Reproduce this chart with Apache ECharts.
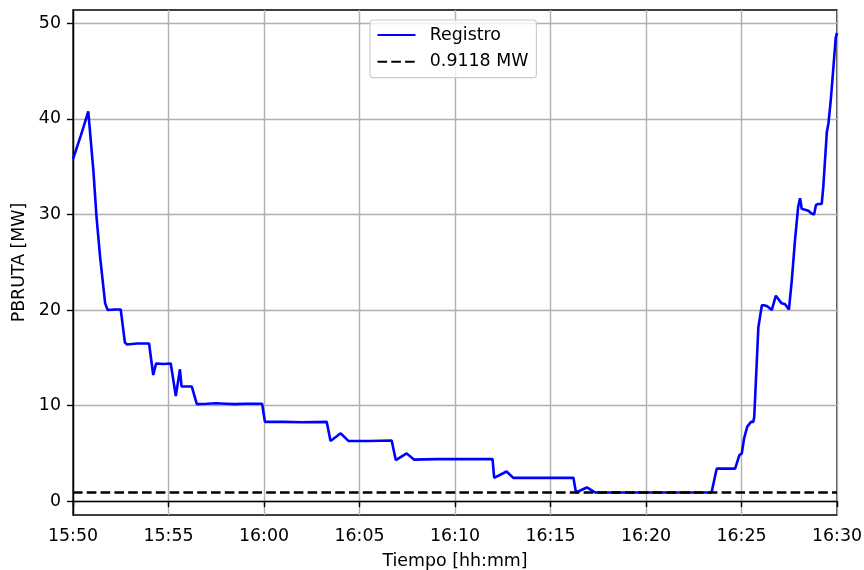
<!DOCTYPE html>
<html>
<head>
<meta charset="utf-8">
<script src="https://cdn.jsdelivr.net/npm/echarts@6/dist/echarts.min.js"></script>
<style>
  html, body { margin: 0; padding: 0; background: #fff; }
  #main { width: 864px; height: 570px; }
</style>
</head>
<body>
<div id="main"></div>
<script>
// registro de potencia bruta (hh:mm:ss, MW)
var horas = [
  '15:50:00', '15:50:14', '15:50:24', '15:50:30', '15:50:38', '15:50:48',
  '15:51:04', '15:51:14', '15:51:25', '15:51:41', '15:51:49', '15:52:10',
  '15:52:30', '15:52:34', '15:52:43', '15:52:50', '15:53:20', '15:53:59',
  '15:54:12', '15:54:21', '15:54:45', '15:55:07', '15:55:23', '15:55:36',
  '15:55:41', '15:56:13', '15:56:29', '15:57:00', '15:57:30', '15:58:00',
  '15:58:30', '15:59:00', '15:59:30', '15:59:54', '16:00:03', '16:01:00',
  '16:02:00', '16:03:17', '16:03:29', '16:04:01', '16:04:25', '16:05:30',
  '16:06:41', '16:06:54', '16:07:28', '16:07:51', '16:09:00', '16:10:30',
  '16:11:58', '16:12:03', '16:12:42', '16:13:03', '16:14:30', '16:16:12',
  '16:16:20', '16:16:54', '16:17:20', '16:19:00', '16:21:00', '16:23:26',
  '16:23:42', '16:24:40', '16:24:53', '16:25:01', '16:25:08', '16:25:18',
  '16:25:30', '16:25:37', '16:25:40', '16:25:53', '16:26:04', '16:26:11',
  '16:26:21', '16:26:27', '16:26:35', '16:26:48', '16:26:52', '16:27:06',
  '16:27:17', '16:27:29', '16:27:38', '16:27:48', '16:27:58', '16:28:04',
  '16:28:09', '16:28:30', '16:28:40', '16:28:48', '16:28:54', '16:29:01',
  '16:29:12', '16:29:17', '16:29:28', '16:29:33', '16:29:40', '16:29:48',
  '16:29:56', '16:30:00'
];
var pbruta = [
  35.8, 37.2, 38.2, 38.3, 39.7, 40.8,
  34.6, 29.7, 25.6, 20.7, 20.0, 20.05,
  20.05, 19.9, 16.6, 16.4, 16.5, 16.5,
  13.2, 14.4, 14.35, 14.4, 11.0, 13.8,
  12.0, 12.0, 10.15, 10.2, 10.25, 10.2,
  10.15, 10.2, 10.2, 10.2, 8.3, 8.3,
  8.25, 8.3, 6.3, 7.1, 6.3, 6.3,
  6.35, 4.3, 5.0, 4.35, 4.4, 4.4,
  4.4, 2.44, 3.1, 2.44, 2.44, 2.44,
  0.9, 1.43, 0.91, 0.91, 0.91, 0.92,
  3.4, 3.4, 4.8, 5.0, 6.55, 7.8,
  8.3, 8.3, 8.8, 18.2, 20.5, 20.5,
  20.4, 20.4, 20.0, 21.5, 21.5, 20.7,
  20.6, 20.05, 23.1, 27.3, 30.8, 31.7,
  30.6, 30.4, 30.1, 30.0, 31.0, 31.1,
  31.1, 32.9, 38.6, 39.5, 41.8, 45.1,
  48.5, 49.0
];
var umbral = 0.9118;
var xTicks = ['15:50', '15:55', '16:00', '16:05', '16:10', '16:15', '16:20', '16:25', '16:30'];
var yTicks = [0, 10, 20, 30, 40, 50];

// minutos desde 15:50
function aMinutos(h) {
  var p = h.split(':');
  return (+p[0] * 60 + +p[1] + (p[2] ? +p[2] / 60 : 0)) - (15 * 60 + 50);
}
var inicio = aMinutos(xTicks[0] + ':00');
var fin = aMinutos(xTicks[xTicks.length - 1] + ':00');

var registro = horas.map(function (h, i) { return [aMinutos(h), pbruta[i]]; });
var linea = [[inicio, umbral], [fin, umbral]];

var fuente = 'DejaVu Sans';
var fs = 17.4;

var option = {
  animation: false,
  textStyle: { fontFamily: fuente },
  grid: {
    left: 73, right: 27, top: 10, bottom: 55,
    outerBoundsMode: 'none',
    show: true, borderColor: '#000', borderWidth: 1.4
  },
  legend: {
    orient: 'vertical',
    left: 370, top: 20,
    padding: [6, 8, 7, 6.5],
    itemWidth: 38, itemHeight: 18, itemGap: 8.7,
    backgroundColor: 'rgba(255,255,255,0.8)',
    borderColor: '#cccccc', borderWidth: 1.2, borderRadius: 3,
    itemStyle: { opacity: 0 },
    textStyle: { fontSize: fs, lineHeight: 18, color: '#000', padding: [0, 0, 0, 9.3] },
    data: ['Registro', '0.9118 MW']
  },
  xAxis: {
    type: 'value',
    min: inicio, max: fin, interval: 5,
    name: 'Tiempo [hh:mm]',
    nameLocation: 'middle', nameGap: 38,
    nameTextStyle: { fontSize: fs, color: '#000' },
    axisLine: { show: true, lineStyle: { color: '#000', width: 1.4 } },
    axisTick: { show: true, length: 6, lineStyle: { color: '#000', width: 1.4 } },
    axisLabel: {
      fontSize: fs, color: '#000', margin: 13,
      formatter: function (v) { return xTicks[Math.round(v / 5)] || ''; }
    },
    splitLine: { show: true, lineStyle: { color: '#b0b0b0', width: 1.4 } }
  },
  yAxis: {
    type: 'value',
    min: -1.45, max: 51.4,
    name: 'PBRUTA [MW]',
    nameLocation: 'middle', nameGap: 43,
    nameTextStyle: { fontSize: fs, color: '#000' },
    axisLine: { show: true, lineStyle: { color: '#000', width: 1.4 } },
    axisTick: { show: true, length: 6, customValues: yTicks, lineStyle: { color: '#000', width: 1.4 } },
    axisLabel: { fontSize: fs, color: '#000', margin: 12, customValues: yTicks },
    splitLine: { show: true, lineStyle: { color: '#b0b0b0', width: 1.4 } }
  },
  series: [
    {
      name: 'Registro',
      type: 'line',
      data: registro,
      showSymbol: false,
      symbol: 'none',
      lineStyle: { color: '#0000ff', width: 2.6 },
      itemStyle: { color: '#0000ff' }
    },
    {
      name: '0.9118 MW',
      type: 'line',
      data: linea,
      showSymbol: false,
      symbol: 'none',
      lineStyle: { color: '#000', width: 2.6, type: [9.6, 4.2] },
      itemStyle: { color: '#000' }
    }
  ]
};

var myChart = echarts.init(document.getElementById('main'));
myChart.setOption(option, true);
</script>
</body>
</html>
